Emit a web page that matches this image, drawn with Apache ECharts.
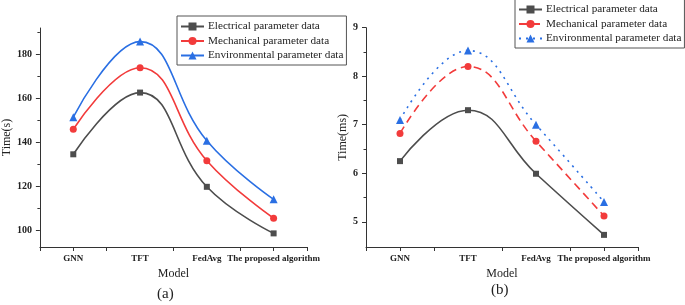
<!DOCTYPE html>
<html>
<head>
<meta charset="utf-8">
<script src="https://cdn.jsdelivr.net/npm/echarts@6/dist/echarts.min.js"></script>
<style>
  html, body { margin: 0; padding: 0; background: #fff; }
  #chart { width: 685px; height: 305px; }
</style>
</head>
<body>
<div id="chart"></div>
<script>
// data
const models = ['GNN', 'TFT', 'FedAvg', 'The proposed algorithm'];
const seriesNames = ['Electrical parameter data', 'Mechanical parameter data', 'Environmental parameter data'];

// (a) Time(s)
const electricalA = [134.5, 162.6, 119.7, 98.5];
const mechanicalA = [145.9, 173.9, 131.6, 105.4];
const environmentalA = [151.4, 185.8, 140.7, 114.0];

// (b) Time(ms)
const electricalB = [6.25, 7.30, 5.99, 4.73];
const mechanicalB = [6.82, 8.20, 6.66, 5.12];
const environmentalB = [7.10, 8.53, 7.00, 5.41];

const ticksA = [100, 120, 140, 160, 180];
const minorTicksA = [110, 130, 150, 170, 190];
const ticksB = [5, 6, 7, 8, 9];
const minorTicksB = [5.5, 6.5, 7.5, 8.5];

const colors = ['#4d4d4d', '#f23b3b', '#2a6fe3'];
const symbols = ['rect', 'circle', 'triangle'];
const symbolSizes = [6, 7, 8];
const lineTypes = ['solid', [8, 5], [2, 5]];
const font = "'Liberation Serif', 'Times New Roman', serif";

let myChart = echarts.init(document.getElementById('chart'));

function xAxes(gridIndex) {
  return [
    {
      type: 'category',
      gridIndex: gridIndex,
      position: 'bottom',
      data: models,
      boundaryGap: true,
      axisLine: { lineStyle: { color: '#333', width: 1 } },
      axisTick: { show: true, inside: false, length: 4, lineStyle: { color: '#333' } },
      axisLabel: { fontFamily: font, fontSize: 9, fontWeight: 'bold', color: '#222', margin: 7, interval: 0 },
      name: 'Model',
      nameLocation: 'middle',
      nameGap: 21,
      nameTextStyle: { fontFamily: font, fontSize: 12, color: '#222' },
      splitLine: { show: false },
    },
    {
      // second copy only for the ticks under each label
      type: 'category',
      gridIndex: gridIndex,
      position: 'bottom',
      data: models,
      boundaryGap: true,
      axisLine: { show: false },
      axisTick: { show: true, alignWithLabel: true, length: 4, lineStyle: { color: '#333' } },
      axisLabel: { show: false },
      splitLine: { show: false },
    },
  ];
}

function yAxes(gridIndex, min, max, ticks, minorTicks, name, nameGap) {
  return [
    {
      type: 'value',
      gridIndex: gridIndex,
      position: 'left',
      min: min,
      max: max,
      name: name,
      nameLocation: 'middle',
      nameGap: nameGap,
      nameTextStyle: { fontFamily: font, fontSize: 12, color: '#222' },
      axisLine: { show: true, lineStyle: { color: '#333', width: 1 } },
      axisTick: { show: true, length: 4, customValues: ticks, lineStyle: { color: '#333' } },
      axisLabel: { customValues: ticks, fontFamily: font, fontSize: 10, fontWeight: 'bold', color: '#222', margin: 8 },
      splitLine: { show: false },
    },
    {
      // minor ticks
      type: 'value',
      gridIndex: gridIndex,
      position: 'left',
      min: min,
      max: max,
      axisLine: { show: false },
      axisTick: { show: true, length: 2.5, customValues: minorTicks, lineStyle: { color: '#333' } },
      axisLabel: { show: false },
      splitLine: { show: false },
    },
  ];
}

function makeSeries(values, i, gridIndex, dashed, suffix) {
  return {
    name: seriesNames[i] + suffix,
    type: 'line',
    xAxisIndex: gridIndex * 2,
    yAxisIndex: gridIndex * 2,
    data: values,
    smooth: 0.45,
    symbol: symbols[i],
    symbolSize: symbolSizes[i],
    showAllSymbol: true,
    color: colors[i],
    itemStyle: { color: colors[i] },
    lineStyle: { color: colors[i], width: 1.6, type: dashed ? lineTypes[i] : 'solid' },
  };
}

function legend(left, top, suffix) {
  return {
    left: left,
    top: top,
    orient: 'vertical',
    data: seriesNames.map((n) => n + suffix),
    formatter: (n) => n.replace('\u200b', ''),
    itemWidth: 23,
    itemHeight: 10,
    itemGap: 3.5,
    padding: [5, 3, 4, 3],
    borderColor: '#555',
    borderWidth: 1,
    borderRadius: 0,
    textStyle: { fontFamily: font, fontSize: 11.2, color: '#222', padding: [0, 0, 0, -1] },
  };
}

let option = {
  animation: false,
  backgroundColor: '#fff',
  grid: [
    { left: 35, right: 378, top: 28, bottom: 58, containLabel: false },
    { left: 366, right: 47, top: 27.7, bottom: 58, containLabel: false },
  ],
  xAxis: xAxes(0).concat(xAxes(1)),
  yAxis: yAxes(0, 92.3, 192, ticksA, minorTicksA, 'Time(s)', 22)
    .concat(yAxes(1, 4.48, 9, ticksB, minorTicksB, 'Time(ms)', 12)),
  legend: [legend(177, 16, ''), legend(515, -1, '\u200b')],
  graphic: [
    { type: 'text', left: 157, top: 287, style: { text: '(a)', font: '15px ' + font, fill: '#222' } },
    { type: 'text', left: 491, top: 283, style: { text: '(b)', font: '15px ' + font, fill: '#222' } },
  ],
  series: [
    makeSeries(electricalA, 0, 0, false, ''),
    makeSeries(mechanicalA, 1, 0, false, ''),
    makeSeries(environmentalA, 2, 0, false, ''),
    makeSeries(electricalB, 0, 1, true, '\u200b'),
    makeSeries(mechanicalB, 1, 1, true, '\u200b'),
    makeSeries(environmentalB, 2, 1, true, '\u200b'),
  ],
};

myChart.setOption(option);
</script>
</body>
</html>
